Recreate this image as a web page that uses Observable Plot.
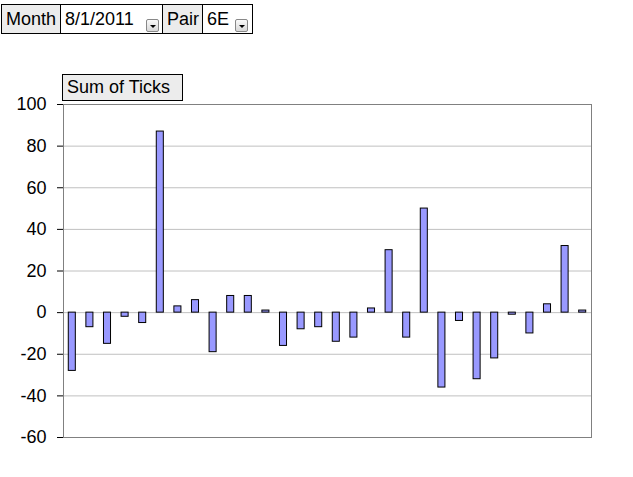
<!DOCTYPE html>
<html><head><meta charset="utf-8">
<script src="https://cdn.jsdelivr.net/npm/d3@7"></script>
<script src="https://cdn.jsdelivr.net/npm/@observablehq/plot@0.6"></script>
<style>
body{margin:0;background:#fff;font-family:Arial,"Liberation Sans",sans-serif;}
#head{position:relative;height:94px;width:633px;z-index:2;}
.b{position:absolute;box-sizing:border-box;border:1px solid #000;font-size:18px;line-height:28px;padding-left:4px;white-space:nowrap;}
.g{background:#ececec;}
.w{background:#fff;}
.dd{position:absolute;width:13px;height:13px;box-sizing:border-box;border:1px solid #888;border-radius:2px;background:linear-gradient(#fafafa,#d8d8d8);}
.dd:after{content:"";position:absolute;left:3px;top:5px;border-left:3px solid transparent;border-right:3px solid transparent;border-top:3px solid #000;}
#chart{position:relative;z-index:1;}
</style></head>
<body>
<div id="head">
  <div class="b g" style="left:1px;top:4px;width:60px;height:30px;">Month</div>
  <div class="b w" style="left:60px;top:4px;width:103px;height:30px;">8/1/2011</div>
  <div class="dd" style="left:146px;top:19px;"></div>
  <div class="b g" style="left:162px;top:4px;width:41px;height:30px;">Pair</div>
  <div class="b w" style="left:202px;top:4px;width:51px;height:30px;">6E</div>
  <div class="dd" style="left:235px;top:19px;"></div>
  <div class="b g" style="left:62px;top:74px;width:121px;height:27px;line-height:25px;">Sum of Ticks</div>
</div>
<div id="chart"></div>
<script>
const days = d3.range(1, 31);
const ticks = [-28, -7, -15, -2, -5, 87, 3, 6, -19, 8, 8, 1, -16, -8, -7, -14, -12, 2, 30, -12, 50, -36, -4, -32, -22, -1, -10, 4, 32, 1];
const yTicks = [-60, -40, -20, 0, 20, 40, 60, 80, 100];
const data = days.map((d, i) => ({day: d, value: ticks[i]}));

const chart = Plot.plot({
  width: 633,
  height: 383,
  marginTop: 10,
  marginBottom: 40,
  marginLeft: 63,
  marginRight: 42,
  style: {fontFamily: "Arial, 'Liberation Sans', sans-serif", fontSize: "18px", background: "#fff", color: "#000"},
  x: {domain: days, paddingInner: 0.6, paddingOuter: 0.3, round: false, axis: null},
  y: {domain: [-60, 100], ticks: yTicks, label: null},
  marks: [
    Plot.gridY(yTicks, {stroke: "#c0c0c0", strokeOpacity: 1}),
    Plot.frame({stroke: "#808080"}),
    Plot.barY(data, {x: "day", y: "value", fill: "#9999ff", stroke: "#000", strokeWidth: 1}),
    Plot.ruleX([0], {frameAnchor: "left", stroke: "#000"}),
    Plot.axisY({ticks: yTicks, tickSize: 6, tickPadding: 11, stroke: "#000", fill: "#000", fontSize: 18, tickFormat: d => String(d).replace("−", "-"), label: null})
  ]
});
document.getElementById("chart").appendChild(chart);
</script>
</body></html>
